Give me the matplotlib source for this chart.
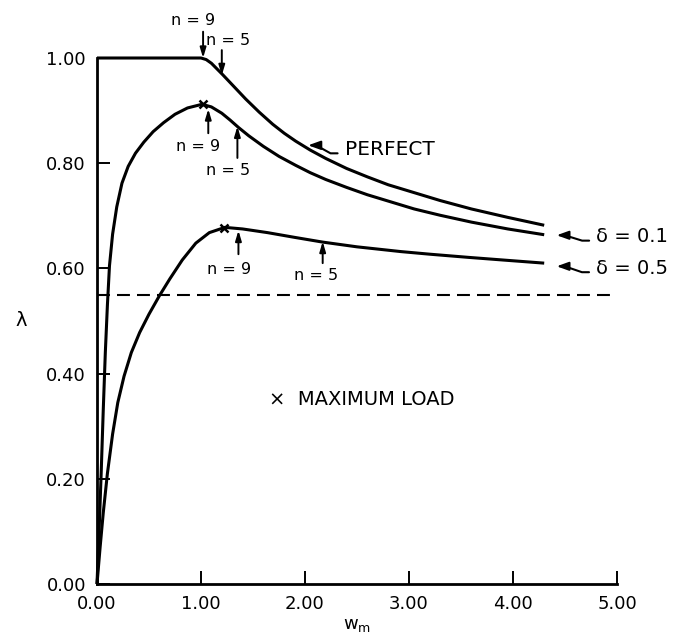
import matplotlib
matplotlib.use("Agg")
import matplotlib.pyplot as plt

# ---- data ----
perfect_w = [0.0, 1.0, 1.05, 1.1, 1.15, 1.21, 1.32, 1.43, 1.56, 1.69, 1.8, 1.91, 2.05, 2.2, 2.4,
             2.6, 2.8, 3.05, 3.3, 3.6, 3.95, 4.3]
perfect_l = [1.0, 1.0, 0.997, 0.990, 0.980, 0.968, 0.945, 0.922, 0.897, 0.874, 0.857, 0.842, 0.825,
             0.809, 0.790, 0.774, 0.759, 0.744, 0.729, 0.713, 0.697, 0.682]

d01_w = [0.0, 0.02, 0.04, 0.06, 0.08, 0.10, 0.12, 0.15, 0.19, 0.24, 0.30, 0.37, 0.45, 0.54, 0.64,
         0.75, 0.87, 1.01, 1.10, 1.20, 1.28, 1.36, 1.46, 1.6, 1.75, 1.91, 2.05, 2.2, 2.4, 2.6, 2.8,
         3.05, 3.3, 3.6, 3.95, 4.3]
d01_l = [0.0, 0.10, 0.21, 0.33, 0.44, 0.53, 0.605, 0.665, 0.717, 0.762, 0.794, 0.819, 0.840, 0.860,
         0.877, 0.893, 0.905, 0.912, 0.907, 0.895, 0.882, 0.868, 0.852, 0.832, 0.813, 0.796, 0.782,
         0.769, 0.754, 0.740, 0.728, 0.713, 0.701, 0.688, 0.675, 0.664]

d05_w = [0.0, 0.03, 0.06, 0.10, 0.15, 0.20, 0.26, 0.33, 0.41, 0.50, 0.60, 0.70, 0.82, 0.95, 1.08,
         1.23, 1.4, 1.64, 1.9, 2.17, 2.5, 2.92, 3.2, 3.57, 3.9, 4.3]
d05_l = [0.0, 0.07, 0.135, 0.21, 0.285, 0.345, 0.395, 0.44, 0.478, 0.513, 0.548, 0.580, 0.616, 0.648,
         0.668, 0.678, 0.675, 0.668, 0.659, 0.650, 0.641, 0.632, 0.627, 0.621, 0.616, 0.610]

max_w = [1.02, 1.22]
max_l = [0.912, 0.677]

ref_level = 0.55

x_ticks = [0, 1, 2, 3, 4, 5]
x_tick_labels = ["0.00", "1.00", "2.00", "3.00", "4.00", "5.00"]
y_ticks = [0.0, 0.2, 0.4, 0.6, 0.8, 1.0]
y_tick_labels = ["0.00", "0.20", "0.40", "0.60", "0.80", "1.00"]

# ---- figure ----
plt.rcParams['font.family'] = ['DejaVu Sans']
fig = plt.figure(figsize=(6.73, 6.41), dpi=100)
ax = fig.add_axes([97 / 673, 1 - 584 / 641, 520 / 673, 526 / 641])

lw = 2.2
for w, l in [(perfect_w, perfect_l), (d01_w, d01_l), (d05_w, d05_l)]:
    ax.plot(w, l, color='black', lw=lw, solid_capstyle='butt', solid_joinstyle='round', clip_on=False)
ax.plot([0, 5], [ref_level, ref_level], color='black', lw=1.5, linestyle=(0, (6.2, 3.4)))
ax.plot(max_w, max_l, linestyle='none', marker='x', color='black', markersize=6, mew=1.8, clip_on=False)

ax.set_xlim(0, 5)
ax.set_ylim(0, 1.0)
for s in ['top', 'right']:
    ax.spines[s].set_visible(False)
for s in ['left', 'bottom']:
    ax.spines[s].set_linewidth(2.0)
ax.set_xticks(x_ticks)
ax.set_xticklabels(x_tick_labels)
ax.set_yticks(y_ticks)
ax.set_yticklabels(y_tick_labels)
ax.tick_params(direction='in', length=9.5, width=1.4, labelsize=13, pad=8)

ax.set_xlabel(r"$\mathregular{w_m}$", fontsize=13, labelpad=2)
ax.set_ylabel("λ", fontsize=14, rotation=0, labelpad=18, va='center')

# n = arrows
arrow_kw = dict(arrowstyle='-|>,head_length=0.6,head_width=0.18', color='black', lw=1.4,
                shrinkA=0, shrinkB=0)
notes = [
    ("n = 9", (1.02, 1.0), (1.02, 1.05), (0.92, 1.072)),
    ("n = 5", (1.20, 0.967), (1.20, 1.015), (1.26, 1.034)),
    ("n = 9", (1.07, 0.903), (1.07, 0.857), (0.97, 0.832)),
    ("n = 5", (1.35, 0.870), (1.35, 0.81), (1.26, 0.786)),
    ("n = 9", (1.36, 0.672), (1.36, 0.627), (1.27, 0.598)),
    ("n = 5", (2.17, 0.651), (2.17, 0.61), (2.11, 0.587)),
]
for txt, tip, tail, tpos in notes:
    ax.annotate("", xy=tip, xytext=tail, arrowprops=arrow_kw, annotation_clip=False)
    ax.text(tpos[0], tpos[1], txt, ha='center', va='center', fontsize=11.5, clip_on=False)

# right-side labels with squiggle arrows
squig = dict(arrowstyle='-|>,head_length=0.5,head_width=0.18', color='black', lw=1.5,
             connectionstyle='arc,angleA=180,armA=14,angleB=0,armB=8,rad=0',
             shrinkA=3, shrinkB=0, relpos=(0, 0.3))
ax.annotate("PERFECT", xy=(2.03, 0.834), xytext=(2.38, 0.826), ha='left', va='center',
            fontsize=14.5, arrowprops=squig, annotation_clip=False)
ax.annotate("δ = 0.1", xy=(4.42, 0.663), xytext=(5.49, 0.660), ha='right', va='center',
            fontsize=14, arrowprops=squig, annotation_clip=False)
ax.annotate("δ = 0.5", xy=(4.42, 0.604), xytext=(5.49, 0.600), ha='right', va='center',
            fontsize=14, arrowprops=squig, annotation_clip=False)

ax.text(1.65, 0.35, "×  MAXIMUM LOAD", ha='left', va='center', fontsize=14)

fig.savefig("out.png", dpi=100)
